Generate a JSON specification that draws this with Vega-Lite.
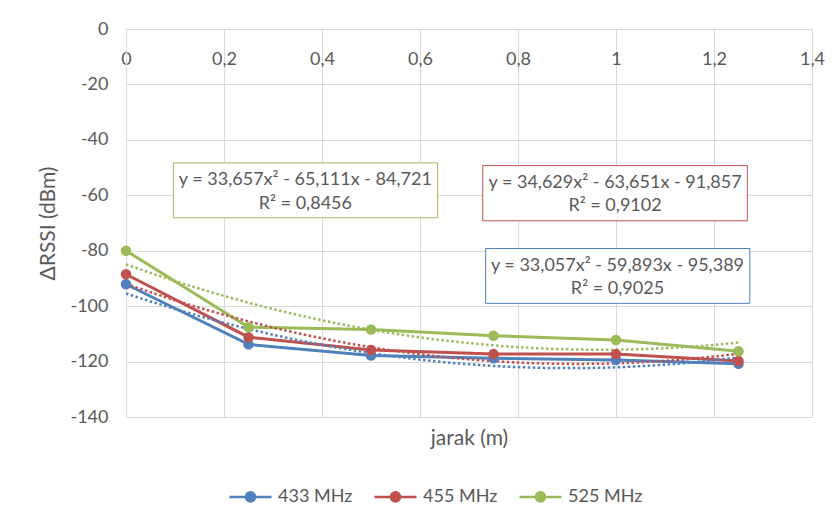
{
  "$schema": "https://vega.github.io/schema/vega-lite/v6.json",
  "width": 686,
  "height": 388,
  "autosize": {"type": "none"},
  "padding": {"left": 126, "top": 29, "right": 25, "bottom": 109},
  "background": "white",
  "config": {
    "font": "Lato",
    "view": {"stroke": "#d9d9d9"},
    "axis": {"labelFont": "Lato", "titleFont": "Lato", "labelColor": "#595959", "titleColor": "#595959", "gridColor": "#d9d9d9", "domainColor": "#d9d9d9", "labelFontSize": 18, "titleFontSize": 21, "titleFontWeight": "normal"},
    "legend": {
      "labelFont": "Lato", "labelColor": "#595959", "labelFontSize": 18,
      "orient": "none", "direction": "horizontal", "legendX": 102, "legendY": 445,
      "symbolType": "M-1,0H1M-0.22,0A0.22,0.22,0,1,0,0.22,0A0.22,0.22,0,1,0,-0.22,0Z",
      "symbolSize": 1764, "symbolStrokeWidth": 2.5, "labelOffset": 5, "columnPadding": 16
    }
  },
  "datasets": {
    "main": [
      {"x": 0, "y": -92.1, "series": "433 MHz"},
      {"x": 0.25, "y": -113.8, "series": "433 MHz"},
      {"x": 0.5, "y": -117.8, "series": "433 MHz"},
      {"x": 0.75, "y": -118.8, "series": "433 MHz"},
      {"x": 1, "y": -119.4, "series": "433 MHz"},
      {"x": 1.25, "y": -120.8, "series": "433 MHz"},
      {"x": 0, "y": -88.5, "series": "455 MHz"},
      {"x": 0.25, "y": -111.2, "series": "455 MHz"},
      {"x": 0.5, "y": -115.8, "series": "455 MHz"},
      {"x": 0.75, "y": -117.3, "series": "455 MHz"},
      {"x": 1, "y": -117.3, "series": "455 MHz"},
      {"x": 1.25, "y": -119.8, "series": "455 MHz"},
      {"x": 0, "y": -80.0, "series": "525 MHz"},
      {"x": 0.25, "y": -107.6, "series": "525 MHz"},
      {"x": 0.5, "y": -108.4, "series": "525 MHz"},
      {"x": 0.75, "y": -110.7, "series": "525 MHz"},
      {"x": 1, "y": -112.2, "series": "525 MHz"},
      {"x": 1.25, "y": -116.3, "series": "525 MHz"}
    ],
    "boxes": [
      {"box": "525", "x": 0.0966, "xe": 0.636, "y": -48.3, "ye": -68.1},
      {"box": "455", "x": 0.728, "xe": 1.268, "y": -49.3, "ye": -69.2},
      {"box": "433", "x": 0.734, "xe": 1.273, "y": -79.2, "ye": -99.0}
    ],
    "texts": [
      {"x": 0.366, "y": -54.6, "label": "y = 33,657x² - 65,111x - 84,721"},
      {"x": 0.366, "y": -63.0, "label": "R² = 0,8456"},
      {"x": 0.998, "y": -55.5, "label": "y = 34,629x² - 63,651x - 91,857"},
      {"x": 0.998, "y": -63.9, "label": "R² = 0,9102"},
      {"x": 1.003, "y": -85.6, "label": "y = 33,057x² - 59,893x - 95,389"},
      {"x": 1.003, "y": -93.9, "label": "R² = 0,9025"}
    ]
  },
  "encoding": {
    "x": {
      "field": "x", "type": "quantitative",
      "scale": {"domain": [0, 1.4], "nice": false, "zero": false},
      "axis": {
        "orient": "bottom", "offset": -388, "values": [0, 0.2, 0.4, 0.6, 0.8, 1, 1.2, 1.4],
        "labelExpr": "replace(toString(datum.value), '.', ',')",
        "ticks": false, "domain": true, "grid": true, "labelPadding": 21,
        "labelFlush": false, "labelOverlap": false,
        "title": "jarak (m)", "titleY": 409, "titleBaseline": "middle"
      }
    },
    "y": {
      "field": "y", "type": "quantitative",
      "scale": {"domain": [-140, 0], "nice": false, "zero": false},
      "axis": {
        "values": [-140, -120, -100, -80, -60, -40, -20, 0],
        "labelExpr": "toString(datum.value)",
        "ticks": false, "domain": true, "grid": true, "labelPadding": 18,
        "title": "ΔRSSI (dBm)", "titlePadding": 11
      }
    }
  },
  "layer": [
    {
      "data": {"name": "boxes"},
      "mark": {"type": "rect", "fill": "white", "strokeWidth": 1},
      "encoding": {
        "x2": {"field": "xe"},
        "y2": {"field": "ye"},
        "stroke": {"field": "box", "type": "nominal", "scale": {"domain": ["433", "455", "525"], "range": ["#4F81BD", "#C0504D", "#9BBB59"]}, "legend": null}
      }
    },
    {
      "data": {"name": "texts"},
      "mark": {"type": "text", "align": "center", "baseline": "middle", "fontSize": 18, "font": "Lato", "color": "#595959"},
      "encoding": {"text": {"field": "label"}}
    },
    {
      "data": {"name": "main"},
      "mark": {"type": "line", "strokeWidth": 3},
      "encoding": {
        "color": {
          "field": "series", "type": "nominal", "title": null,
          "scale": {"domain": ["433 MHz", "455 MHz", "525 MHz"], "range": ["#4F81BD", "#C0504D", "#9BBB59"]}
        }
      }
    },
    {
      "data": {"name": "main"},
      "transform": [{"regression": "y", "on": "x", "groupby": ["series"], "method": "poly", "order": 2, "extent": [0, 1.25]}],
      "mark": {"type": "line", "strokeWidth": 2.5, "strokeDash": [2.5, 2.5]},
      "encoding": {"color": {"field": "series", "type": "nominal", "title": null}}
    },
    {
      "data": {"name": "main"},
      "mark": {"type": "point", "filled": true, "size": 110, "opacity": 1, "shape": "circle"},
      "encoding": {"color": {"field": "series", "type": "nominal", "title": null}}
    }
  ]
}
